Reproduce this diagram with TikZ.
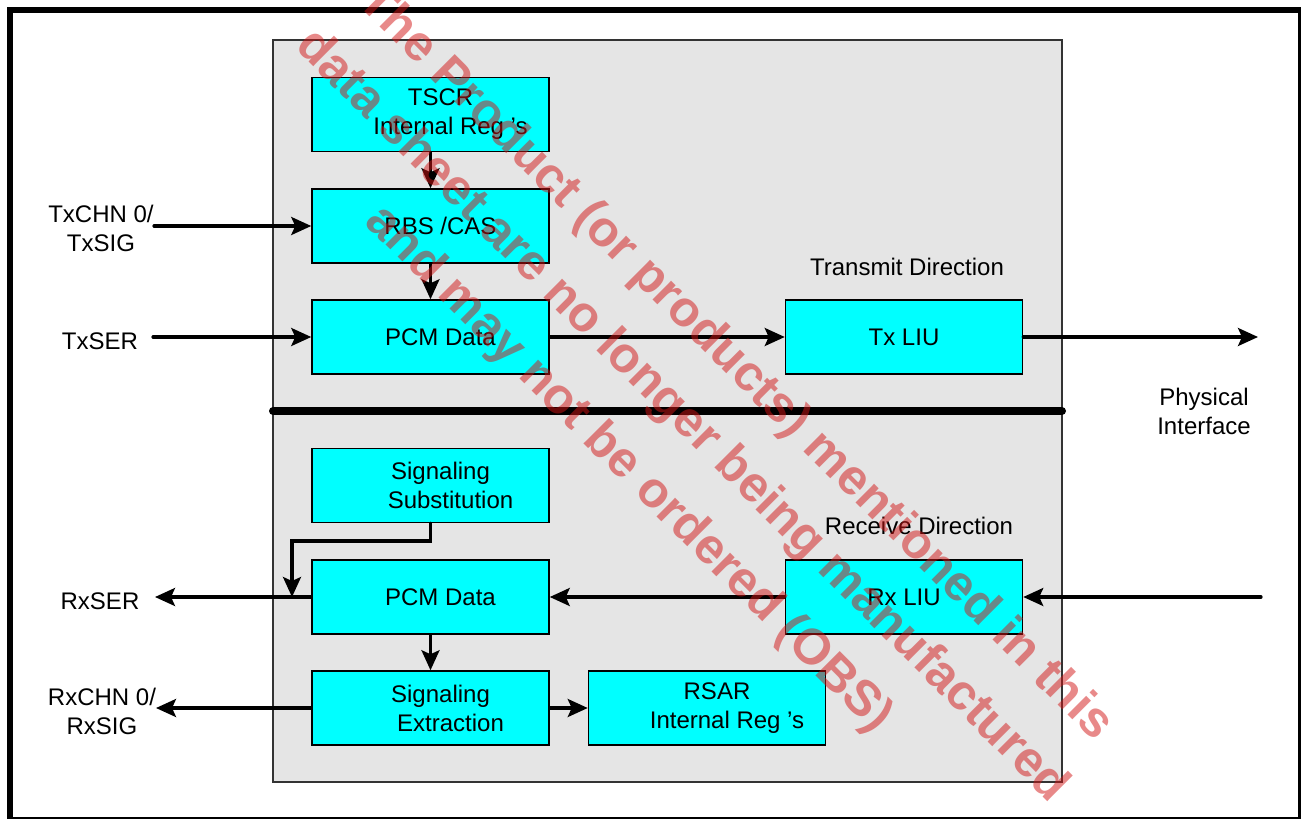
\documentclass[tikz,border=0pt]{standalone}
\usepackage{fontspec}
\setmainfont{Liberation Sans}
\usetikzlibrary{arrows.meta}
\definecolor{liucyan}{RGB}{0,255,255}
\definecolor{wmred}{RGB}{210,20,20}
\newcommand{\brk}{\\\hspace*{20pt}}
\tikzset{
  blk/.style={draw=black, line width=1.5pt, fill=liucyan, minimum width=237pt, minimum height=74pt, inner sep=0pt, align=center},
  offblk/.style={blk, execute at begin node=\hspace*{20pt}},
  arr/.style={line width=3.2pt, line cap=round, -{Stealth[length=20pt,width=18pt,inset=4pt]}},
  lbl/.style={align=center, inner sep=0pt},
  wmark/.style={align=center, inner sep=0pt, rotate=-45, text=wmred, text opacity=0.5, font=\fontsize{50}{75}\selectfont\bfseries}
}

\begin{document}
\begin{tikzpicture}[x=1pt, y=-1pt, font=\fontsize{24}{29}\selectfont]
\useasboundingbox (0,0) rectangle (1301,819);
\draw[line width=6pt] (10,10) rectangle (1301,820);
\draw[fill=black!10, draw=black!80, line width=1.2pt] (273,40) rectangle (1062,782);
\draw[line width=8pt, line cap=round] (273,411) -- (1062,411);

% transmit side
\node[offblk] (tscr) at (430.5,114.5) {TSCR\brk Internal Reg 's};
\node[offblk] (rbs) at (430.5,226) {RBS /CAS};
\node[offblk] (txpcm) at (430.5,337) {PCM Data};
\node[blk] (txliu) at (904,337) {Tx LIU};
\node[lbl] (txdir) at (907,267) {Transmit Direction};

% receive side
\node[offblk] (sub) at (430.5,485.5) {Signaling\brk Substitution};
\node[offblk] (rxpcm) at (430.5,597) {PCM Data};
\node[blk] (rxliu) at (904,597) {Rx LIU};
\node[offblk] (sigext) at (430.5,708) {Signaling\brk Extraction};
\node[offblk] (rsar) at (707,708) {RSAR\brk Internal Reg 's};
\node[lbl] (rxdir) at (919,526) {Receive Direction};

% pins
\node[lbl] (txchn) at (101,228) {TxCHN 0/\\TxSIG};
\node[lbl] (txser) at (100,341) {TxSER};
\node[lbl] (rxser) at (100,601) {RxSER};
\node[lbl] (rxchn) at (102,711) {RxCHN 0/\\RxSIG};
\node[lbl] (phys) at (1204,411) {Physical\\Interface};
\coordinate (txchnin) at (154,226);
\coordinate (txserin) at (153,337);
\coordinate (rxserout) at (155,597);
\coordinate (rxchnout) at (156,708);
\coordinate (txout) at (1258,337);
\coordinate (rxin) at (1261,597);
\coordinate (subbend) at (292,541);
\coordinate (subtip) at (292,597);

\draw[arr] (tscr.south) -- (rbs.north);
\draw[arr] (rbs.south) -- (txpcm.north);
\draw[arr] (txchnin) -- (rbs.west);
\draw[arr] (txserin) -- (txpcm.west);
\draw[arr] (txpcm.east) -- (txliu.west);
\draw[arr] (txliu.east) -- (txout);

\draw[arr] (rxin) -- (rxliu.east);
\draw[arr] (rxliu.west) -- (rxpcm.east);
\draw[arr] (rxpcm.west) -- (rxserout);
\draw[arr] (sub.south) |- (subbend) -- (subtip);
\draw[arr] (rxpcm.south) -- (sigext.north);
\draw[arr] (sigext.west) -- (rxchnout);
\draw[arr] (sigext.east) -- (rsar.west);

% watermark
\node[wmark] (obs) at (681.5,416.5) {The Product (or products) mentioned in this\\data sheet are no longer being manufactured\\and may not be ordered (OBS)};
\end{tikzpicture}
\end{document}
